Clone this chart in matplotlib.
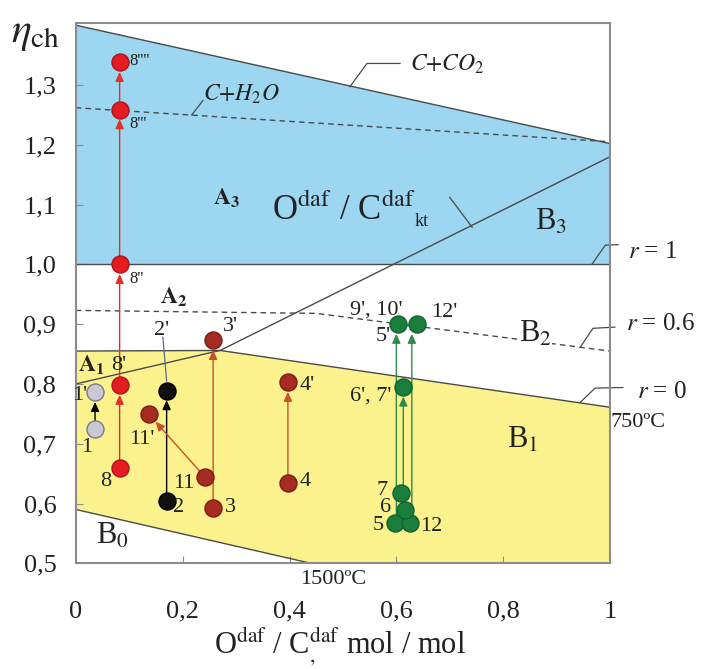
import matplotlib
matplotlib.use("Agg")
import matplotlib.pyplot as plt
from matplotlib.patches import Polygon

plt.rcParams["font.family"] = ["Liberation Serif", "DejaVu Serif"]
plt.rcParams["mathtext.fontset"] = "stix"

# region boundaries
co2_x = [0, 1]
co2_y = [1.40, 1.202]
h2o_x = [0, 1]
h2o_y = [1.262, 1.205]
r1_x = [0, 1]
r1_y = [1.0, 1.0]
r06_x = [0, 0.45, 1]
r06_y = [0.923, 0.918, 0.855]
r0_x = [0, 0.27, 1]
r0_y = [0.855, 0.856, 0.761]
kt_x = [0, 0.27, 1]
kt_y = [0.80, 0.856, 1.18]
low_x = [0, 0.44]
low_y = [0.59, 0.50]

# measured points (start -> end of each arrow)
gray_x = [0.036, 0.036]
gray_y = [0.724, 0.786]
red_x = [0.082, 0.082, 0.082, 0.082, 0.082]
red_y = [0.660, 0.798, 1.000, 1.259, 1.338]
black_x = [0.170, 0.170]
black_y = [0.605, 0.789]
brown_x = [0.257, 0.257, 0.397, 0.397, 0.242, 0.137]
brown_y = [0.592, 0.873, 0.634, 0.803, 0.644, 0.749]
green_x = [0.597, 0.625, 0.617, 0.608, 0.603, 0.638, 0.613]
green_y = [0.567, 0.567, 0.589, 0.617, 0.900, 0.900, 0.795]
green_arrows = [((0.600, 0.575), (0.600, 0.900)),
                ((0.629, 0.575), (0.629, 0.900)),
                ((0.613, 0.625), (0.613, 0.795))]

xticks = [0, 0.2, 0.4, 0.6, 0.8, 1.0]
xtick_labels = ["0", "0,2", "0,4", "0,6", "0,8", "1"]
yticks = [0.5, 0.6, 0.7, 0.8, 0.9, 1.0, 1.1, 1.2, 1.3]
ytick_labels = ["0,5", "0,6", "0,7", "0,8", "0,9", "1,0", "1,1", "1,2", "1,3"]

BLUE = "#9dd6f0"
YELLOW = "#fbf28e"
EDGE = "#4a4a4a"


def arrow(ax, p0, p1, color, lw=1.0):
    ax.annotate("", xy=p1, xytext=p0,
                arrowprops=dict(arrowstyle="-|>,head_length=0.55,head_width=0.25",
                                color=color, lw=lw, shrinkA=0, shrinkB=7))


def leader(ax, xs, ys):
    ax.plot(xs, ys, color=EDGE, lw=0.9, clip_on=False)


def main():
    fig = plt.figure(figsize=(7.02, 6.69), dpi=100)
    ax = fig.add_axes([0.108, 0.158, 0.761, 0.807])
    ax.set_xlim(0, 1)
    ax.set_ylim(0.5, 1.403)

    # filled regions
    blue = Polygon([(r1_x[0], r1_y[0]), (r1_x[1], r1_y[1]),
                    (co2_x[1], co2_y[1]), (co2_x[0], co2_y[0])],
                   closed=True, facecolor=BLUE, edgecolor="none", zorder=0)
    ax.add_patch(blue)
    yel = [(low_x[0], low_y[0])] + list(zip(r0_x, r0_y)) + [(1, 0.5), (low_x[1], low_y[1])]
    ax.add_patch(Polygon(yel, closed=True, facecolor=YELLOW, edgecolor="none", zorder=0))

    ax.plot(co2_x, co2_y, color=EDGE, lw=1.0)
    ax.plot(h2o_x, h2o_y, color=EDGE, lw=1.0, ls=(0, (4, 3)))
    ax.plot(r1_x, r1_y, color=EDGE, lw=1.0)
    ax.plot(r06_x, r06_y, color=EDGE, lw=1.0, ls=(0, (4, 3)))
    ax.plot(r0_x, r0_y, color=EDGE, lw=1.0)
    ax.plot(kt_x, kt_y, color=EDGE, lw=1.0)
    ax.plot(low_x, low_y, color=EDGE, lw=1.0)

    # arrows
    arrow(ax, (gray_x[0], gray_y[0]), (gray_x[1], gray_y[1]), "black")
    for i in range(len(red_x) - 1):
        arrow(ax, (red_x[i], red_y[i]), (red_x[i + 1], red_y[i + 1]), "#e0302a")
    arrow(ax, (black_x[0], black_y[0]), (black_x[1], black_y[1]), "black")
    for i in range(0, len(brown_x), 2):
        arrow(ax, (brown_x[i], brown_y[i]), (brown_x[i + 1], brown_y[i + 1]), "#c8502e")
    for p0, p1 in green_arrows:
        arrow(ax, p0, p1, "#2e8b4a")

    # markers
    ms = 150
    ax.scatter(gray_x, gray_y, s=ms, color="#c9c9d6", edgecolor="#7a7a88", lw=1, zorder=5)
    ax.scatter(red_x, red_y, s=ms, color="#e51d22", edgecolor="#b01218", lw=1, zorder=5)
    ax.scatter(black_x, black_y, s=ms, color="#111111", edgecolor="#000000", lw=1, zorder=5)
    ax.scatter(brown_x, brown_y, s=ms, color="#a62b20", edgecolor="#7a1c14", lw=1, zorder=5)
    ax.scatter(green_x, green_y, s=ms, color="#1a7f3c", edgecolor="#126030", lw=1, zorder=5)

    # 2' leader
    ax.plot([0.163, 0.170], [0.878, 0.805], color="#5a6a90", lw=0.9)

    # region / curve labels
    tc = "#222222"
    ax.text(0.238, 1.285, r"$C{+}H_2O$", fontsize=17, color=tc, va="center")
    leader(ax, [0.217, 0.238], [1.250, 1.274])
    ax.text(0.625, 1.335, r"$C{+}CO_2$", fontsize=17, color=tc, va="center")
    leader(ax, [0.513, 0.545, 0.607], [1.297, 1.336, 1.336])
    ax.text(0.256, 1.11, r"$\mathbf{A_3}$", fontsize=17, color=tc, va="center")
    ax.text(0.367, 1.09, r"O$^{\rm daf}$ / C$^{\rm daf}$", fontsize=25, color=tc, va="center")
    ax.text(0.635, 1.072, "kt", fontsize=13, color=tc, va="center")
    leader(ax, [0.700, 0.742], [1.112, 1.062])
    ax.text(0.86, 1.07, r"B$_3$", fontsize=22, color=tc, va="center")
    ax.text(1.034, 1.02, r"$r$ = 1", fontsize=18, color=tc, va="center", clip_on=False)
    leader(ax, [0.966, 0.991, 1.015], [1.0, 1.032, 1.033])
    ax.text(0.157, 0.945, r"$\mathbf{A_2}$", fontsize=17, color=tc, va="center")
    ax.text(0.83, 0.884, r"B$_2$", fontsize=22, color=tc, va="center",
            bbox=dict(facecolor="white", edgecolor="none", pad=0))
    ax.text(1.03, 0.90, r"$r$ = 0.6", fontsize=18, color=tc, va="center", clip_on=False)
    leader(ax, [0.944, 0.968, 1.009], [0.861, 0.893, 0.895])
    ax.text(1.05, 0.786, r"$r$ = 0", fontsize=18, color=tc, va="center", clip_on=False)
    leader(ax, [0.944, 0.972, 1.024], [0.769, 0.793, 0.794])
    ax.text(1.0, 0.736, "750ºC", fontsize=16, color=tc, va="center", clip_on=False)
    ax.text(0.807, 0.706, r"B$_1$", fontsize=22, color=tc, va="center")
    ax.text(0.004, 0.831, r"$\mathbf{A_1}$", fontsize=17, color=tc, va="center")
    ax.text(0.037, 0.545, r"B$_0$", fontsize=22, color=tc, va="center")
    ax.text(0.481, 0.473, "1500ºC", fontsize=16, color=tc, ha="center", va="center", clip_on=False)

    # point labels
    pl = [
        ("8''''", 0.100, 1.340, 12, "left"),
        ("8'''", 0.100, 1.235, 12, "left"),
        ("8''", 0.100, 0.975, 12, "left"),
        ("8'", 0.067, 0.831, 16, "left"),
        ("1'", 0.022, 0.780, 16, "right"),
        ("1", 0.020, 0.694, 16, "center"),
        ("11'", 0.124, 0.707, 16, "center"),
        ("8", 0.056, 0.637, 16, "center"),
        ("11", 0.203, 0.634, 16, "center"),
        ("2", 0.193, 0.594, 16, "center"),
        ("3", 0.290, 0.594, 16, "center"),
        ("4", 0.429, 0.637, 16, "center"),
        ("4'", 0.434, 0.798, 16, "center"),
        ("3'", 0.290, 0.896, 16, "center"),
        ("2'", 0.161, 0.890, 16, "center"),
        ("9', 10'", 0.513, 0.923, 16, "left"),
        ("12'", 0.665, 0.920, 16, "left"),
        ("5'", 0.575, 0.880, 16, "center"),
        ("6', 7'", 0.590, 0.779, 16, "right"),
        ("7", 0.573, 0.622, 16, "center"),
        ("6", 0.580, 0.594, 16, "center"),
        ("5", 0.566, 0.564, 16, "center"),
        ("12", 0.665, 0.562, 16, "center"),
    ]
    for s, x, y, fs, ha in pl:
        ax.text(x, y, s, fontsize=fs, color=tc, ha=ha, va="center", zorder=6)

    # axes styling
    for sp in ax.spines.values():
        sp.set_color("#8c8c8c")
        sp.set_linewidth(1.5)
    ax.set_xticks(xticks)
    ax.set_xticklabels(xtick_labels)
    ax.set_yticks(yticks)
    ax.set_yticklabels(ytick_labels)
    ax.tick_params(direction="in", length=5, color="#8c8c8c", labelsize=19, labelcolor=tc)
    ax.tick_params(axis="x", pad=27)
    ax.tick_params(axis="y", pad=14)

    fig.text(0.485, 0.034, r"O$^{\rm daf}$ / C$^{\rm daf}_{,}$ mol / mol",
             fontsize=22, color=tc, ha="center", va="center")
    fig.text(0.015, 0.95, r"$\eta_{\rm ch}$", fontsize=30, color=tc, ha="left", va="center")

    fig.savefig("out.png", dpi=100)
    plt.close(fig)


if __name__ == "__main__":
    main()
